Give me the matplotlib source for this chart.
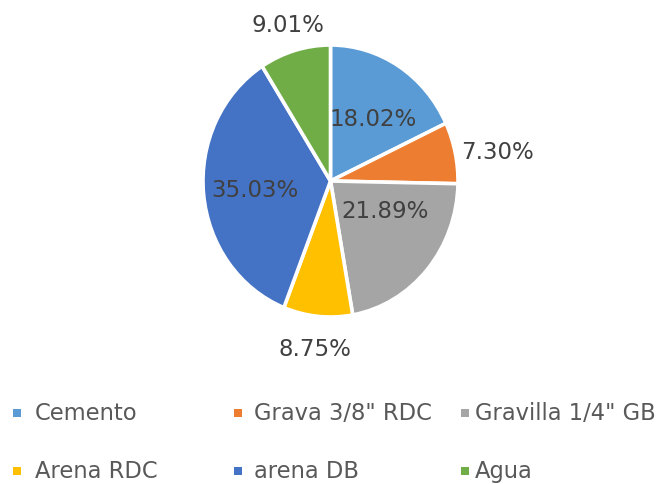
import matplotlib
matplotlib.use("Agg")
import numpy as np
import matplotlib.pyplot as plt
from matplotlib.patches import Rectangle

# data
labels = ["Cemento", "Grava 3/8\" RDC", "Gravilla 1/4\" GB", "Arena RDC", "arena DB", "Agua"]
values = [18.02, 7.30, 21.89, 8.75, 35.03, 9.01]
colors = ["#5B9BD5", "#ED7D31", "#A5A5A5", "#FFC000", "#4472C4", "#70AD47"]

# label placement (distance from centre, angle tweak in degrees)
label_dist = [0.565, 1.33, 0.48, 1.24, 0.593, 1.2]
label_dang = [-3.7, -2.5, 13.2, 0.0, 0.3, 0.0]

W, H = 662, 485
fig = plt.figure(figsize=(W / 100, H / 100), dpi=100)

# pie drawn slightly taller than wide, like the original
ax = fig.add_axes([203 / W, 167 / H, 255 / W, 272 / H])
wedges, _ = ax.pie(values, colors=colors, startangle=90, counterclock=False,
                   wedgeprops=dict(edgecolor="white", linewidth=2.6))
ax.set_aspect("auto")
ax.set_xlim(-1, 1)
ax.set_ylim(-1, 1)
ax.axis("off")

for w, v, d, da in zip(wedges, values, label_dist, label_dang):
    ang = np.deg2rad((w.theta1 + w.theta2) / 2 + da)
    ax.text(d * np.cos(ang), d * np.sin(ang), f"{v:.2f}%", ha="center", va="center",
            fontsize=16.5, color="#404040")

# legend, laid out as a 3 x 2 grid
marker_x = [13, 234, 461]
text_x = [35, 254, 475]
row_y = [414, 472]
for i, (lab, col) in enumerate(zip(labels, colors)):
    r, c = divmod(i, 3)
    y = row_y[r]
    fig.add_artist(Rectangle((marker_x[c] / W, (H - y - 4) / H), 8 / W, 8 / H,
                             transform=fig.transFigure, facecolor=col, edgecolor="none"))
    fig.text(text_x[c] / W, (H - y) / H, lab, ha="left", va="center",
             fontsize=16.3, color="#595959")

fig.savefig("out.png", dpi=100)
